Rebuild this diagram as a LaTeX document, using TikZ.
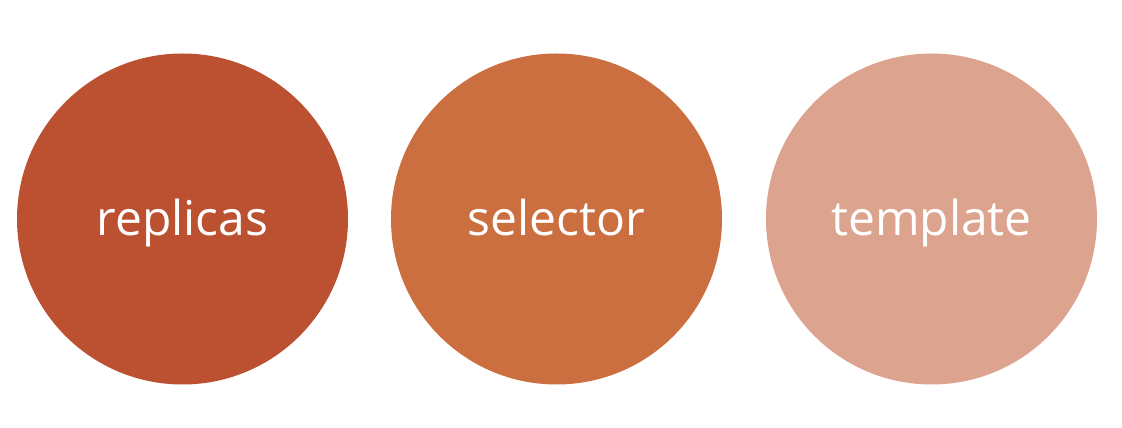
\documentclass[tikz,border=0pt]{standalone}
\usepackage{fontspec}
\setsansfont{Open Sans}
\usepackage{tikz}
\usetikzlibrary{positioning}

\definecolor{rust}{HTML}{BB5131}
\definecolor{copper}{HTML}{CC6F40}
\definecolor{blush}{HTML}{DCA48E}

\tikzset{
  field/.style={circle,minimum size=331pt,inner sep=0pt,text=white,
    text height=46pt,text depth=12pt,
    font=\sffamily\fontsize{48}{48}\selectfont}
}

\begin{document}
\begin{tikzpicture}[x=1pt,y=1pt]
  \useasboundingbox (0,0) rectangle (1122,428);
  \node[field,fill=rust] (replicas) at (182.5,209) {replicas};
  \node[field,fill=copper] (selector) at (556.5,209) {selector};
  \node[field,fill=blush] (template) at (931.5,209) {template};
\end{tikzpicture}
\end{document}
